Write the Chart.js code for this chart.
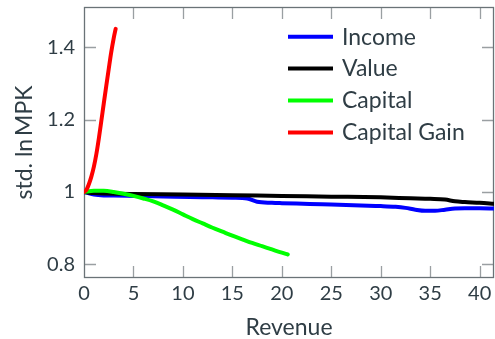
<!DOCTYPE html>
<html>
<head>
<meta charset="utf-8">
<script src="https://cdn.jsdelivr.net/npm/chart.js@4.4.1/dist/chart.umd.min.js"></script>
<style>
  html, body { margin: 0; padding: 0; background: #ffffff; }
  canvas { display: block; }
</style>
</head>
<body>
<canvas id="c" width="495" height="339"></canvas>
<script>
// Series: revenue (x) against std. ln MPK (y), one pair of arrays per series
const incomeX = [0, 0.5, 1, 2, 3, 5, 8, 10.7, 13, 15, 16.5, 17.5, 19, 20, 22.8, 25, 28, 30, 31.5, 32.5, 33.5, 34.5, 35.5, 36.5, 37.5, 38.5, 40, 41.5];
const incomeY = [1.0, 0.996, 0.993, 0.9905, 0.990, 0.989, 0.9875, 0.986, 0.985, 0.984, 0.982, 0.973, 0.970, 0.969, 0.967, 0.965, 0.9625, 0.961, 0.959, 0.956, 0.951, 0.948, 0.948, 0.951, 0.954, 0.955, 0.955, 0.954];

const valueX = [0, 0.5, 1, 2, 5, 10, 15, 20, 25, 30, 33, 35, 36.5, 37.5, 38.5, 40, 41.5];
const valueY = [1.0, 0.998, 0.997, 0.996, 0.9945, 0.993, 0.991, 0.989, 0.987, 0.985, 0.9825, 0.981, 0.979, 0.974, 0.972, 0.970, 0.967];

const capitalX = [0, 1, 2, 3, 4, 5, 6, 7, 8, 9, 10, 11, 12, 13, 14, 15, 16, 17, 18, 19, 20, 20.6];
const capitalY = [1.000, 1.003, 1.003, 1.000, 0.995, 0.989, 0.982, 0.974, 0.963, 0.951, 0.938, 0.925, 0.913, 0.901, 0.890, 0.879, 0.869, 0.859, 0.850, 0.841, 0.832, 0.827];

const gainX = [0, 0.25, 0.5, 0.75, 1, 1.25, 1.5, 1.75, 2, 2.25, 2.5, 2.75, 3, 3.2];
const gainY = [1.0, 1.006, 1.022, 1.043, 1.07, 1.105, 1.148, 1.196, 1.245, 1.293, 1.34, 1.386, 1.425, 1.451];

const seriesNames = ['Income', 'Value', 'Capital', 'Capital Gain'];

// Axis ticks
const xTicks = [0, 5, 10, 15, 20, 25, 30, 35, 40];
const yTicks = [0.8, 1.0, 1.2, 1.4];
const yTickLabels = ['0.8', '1', '1.2', '1.4'];

const TEXT = '#2f3d45';
const FRAME = '#6a7377';
const TICKMARK = '#9a9fa2';
const FONT = 'Lato';

const pts = (xs, ys) => xs.map((x, i) => ({ x: x, y: ys[i] }));

function series(label, xs, ys, color, order) {
  return {
    label: label,
    data: pts(xs, ys),
    borderColor: color,
    backgroundColor: color,
    borderWidth: 4,
    pointRadius: 0,
    fill: false,
    cubicInterpolationMode: 'monotone',
    borderCapStyle: 'round',
    borderJoinStyle: 'round',
    order: order
  };
}

// Box frame with inward tick marks on all four sides
const frameTicks = {
  id: 'frameTicks',
  beforeDatasetsDraw(chart) {
    const { ctx, chartArea: a, scales: { x, y } } = chart;
    const TL = 12;
    ctx.save();
    ctx.strokeStyle = TICKMARK;
    ctx.lineWidth = 1.3;
    ctx.beginPath();
    x.ticks.forEach(t => {
      const px = Math.round(x.getPixelForValue(t.value)) + 0.5;
      if (px <= a.left + 2 || px >= a.right - 2) return;
      ctx.moveTo(px, a.bottom); ctx.lineTo(px, a.bottom - TL);
      ctx.moveTo(px, a.top); ctx.lineTo(px, a.top + TL);
    });
    y.ticks.forEach(t => {
      const py = Math.round(y.getPixelForValue(t.value)) + 0.5;
      if (py <= a.top + 2 || py >= a.bottom - 2) return;
      ctx.moveTo(a.left, py); ctx.lineTo(a.left + TL, py);
      ctx.moveTo(a.right, py); ctx.lineTo(a.right - TL, py);
    });
    ctx.stroke();
    ctx.strokeStyle = FRAME;
    ctx.lineWidth = 1.3;
    ctx.strokeRect(a.left + 0.5, a.top + 0.5, a.right - a.left - 1, a.bottom - a.top - 1);
    ctx.restore();
  }
};

// Legend drawn inside the plot area, upper right
const innerLegend = {
  id: 'innerLegend',
  afterDatasetsDraw(chart) {
    const { ctx } = chart;
    const x0 = 288, x1 = 333, tx = 342;
    const base0 = 44.5, step = 31.9;
    ctx.save();
    ctx.font = '23px ' + FONT;
    ctx.textBaseline = 'alphabetic';
    ctx.textAlign = 'left';
    chart.data.datasets.forEach((ds, i) => {
      const b = base0 + i * step;
      const ly = b - 7.8;
      ctx.strokeStyle = ds.borderColor;
      ctx.lineWidth = 4;
      ctx.lineCap = 'butt';
      ctx.beginPath();
      ctx.moveTo(x0, ly);
      ctx.lineTo(x1, ly);
      ctx.stroke();
      ctx.fillStyle = TEXT;
      ctx.fillText(ds.label, tx, b);
    });
    ctx.restore();
  }
};

new Chart(document.getElementById('c'), {
  type: 'line',
  data: {
    datasets: [
      series(seriesNames[0], incomeX, incomeY, '#0000ff', 4),
      series(seriesNames[1], valueX, valueY, '#000000', 3),
      series(seriesNames[2], capitalX, capitalY, '#00ff00', 2),
      series(seriesNames[3], gainX, gainY, '#ff0000', 1)
    ]
  },
  options: {
    responsive: false,
    devicePixelRatio: 1,
    animation: false,
    layout: { padding: { top: 7, right: 1, left: 0, bottom: 0 } },
    plugins: {
      legend: { display: false },
      tooltip: { enabled: false }
    },
    scales: {
      x: {
        type: 'linear',
        min: 0,
        max: 41.45,
        afterBuildTicks: s => { s.ticks = xTicks.map(v => ({ value: v })); },
        afterFit: s => { s.height = 61; s.paddingLeft = 0; s.paddingRight = 0; },
        grid: { display: false, drawTicks: false },
        border: { display: false },
        ticks: {
          font: { family: FONT, size: 20 },
          color: TEXT,
          padding: 4,
          maxRotation: 0,
          callback: v => String(v)
        },
        title: {
          display: true,
          text: 'Revenue',
          font: { family: FONT, size: 23, lineHeight: 1 },
          color: TEXT,
          padding: { top: 0, bottom: 0 }
        }
      },
      y: {
        type: 'linear',
        min: 0.762,
        max: 1.5115,
        afterBuildTicks: s => { s.ticks = yTicks.map(v => ({ value: v })); },
        afterFit: s => { s.width = 84; s.paddingTop = 0; s.paddingBottom = 0; },
        grid: { display: false, drawTicks: false },
        border: { display: false },
        ticks: {
          font: { family: FONT, size: 20 },
          color: TEXT,
          padding: 9,
          callback: v => {
            const i = yTicks.findIndex(t => Math.abs(t - v) < 1e-9);
            return i >= 0 ? yTickLabels[i] : '';
          }
        },
        title: {
          display: true,
          text: 'std. ln\u2009MPK',
          font: { family: FONT, size: 23, lineHeight: 1 },
          color: TEXT,
          padding: { top: 13, bottom: 0 }
        }
      }
    }
  },
  plugins: [frameTicks, innerLegend]
});
</script>
</body>
</html>
